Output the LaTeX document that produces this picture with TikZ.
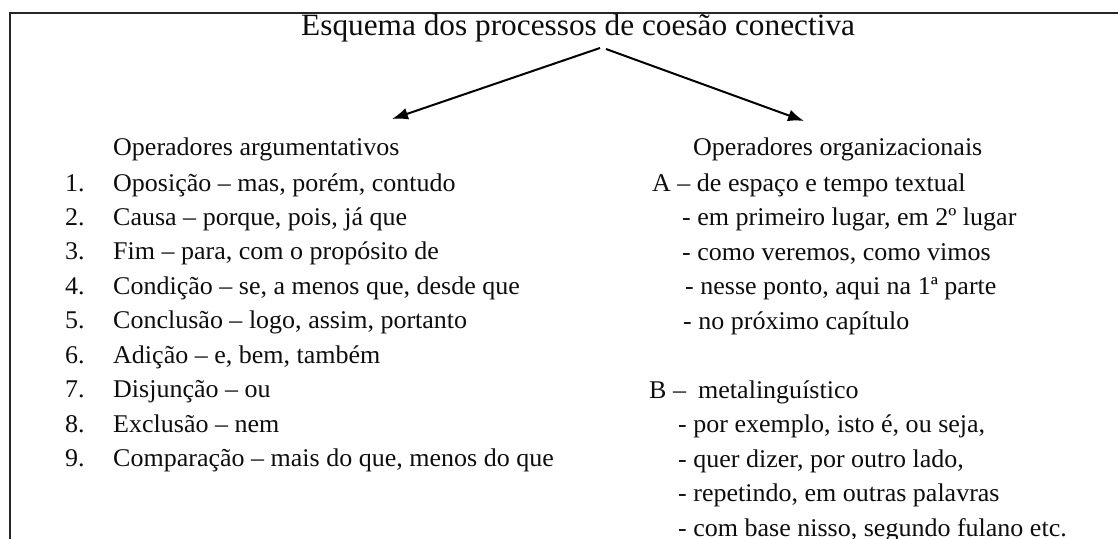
\documentclass[tikz,border=0pt]{standalone}
\usepackage{fontspec}
\setmainfont{Liberation Serif}
\newfontfamily\bodyfont[FakeStretch=1.02]{Liberation Serif}
\newfontfamily\titlefont[FakeStretch=1.01]{Liberation Serif}
\usetikzlibrary{arrows.meta}
\begin{document}
\begin{tikzpicture}[x=1pt,y=-1pt,
  txt/.style={anchor=base west,inner sep=0pt,font=\bodyfont\fontsize{25.5}{30}\selectfont,text=black!95},
  ttl/.style={anchor=base west,inner sep=0pt,font=\titlefont\fontsize{31}{37}\selectfont,text=black!95},
  conn/.style={line width=2pt,-{Latex[length=16pt,width=12pt]}},
  frame/.style={line width=2pt,draw=black!85}]
\useasboundingbox (0,0) rectangle (1118,538);
\begin{scope}
\clip (0,0) rectangle (1118,538);
\draw[frame] (10,545) -- (10,13) -- (1125,13);
\node[ttl] (title) at (301,35) {Esquema dos processos de coesão conectiva};
% left column
\node[txt] (h1) at (113,155) {Operadores argumentativos};
\foreach \n/\t [count=\i] in {1/{Oposição – mas, porém, contudo},
  2/{Causa – porque, pois, já que},
  3/{Fim – para, com o propósito de},
  4/{Condição – se, a menos que, desde que},
  5/{Conclusão – logo, assim, portanto},
  6/{Adição – e, bem, também},
  7/{Disjunção – ou},
  8/{Exclusão – nem},
  9/{Comparação – mais do que, menos do que}}{
  \node[txt] (n\i) at (65,{191+34.45*(\i-1)}) {\n.};
  \node[txt] (l\i) at (113,{191+34.45*(\i-1)}) {\t};
}
% right column
\node[txt] (h2) at (693,155) {Operadores organizacionais};
\node[txt] (ra) at (652,191) {A – de espaço e tempo textual};
\node[txt] (ra1) at (682,225.5) {- em primeiro lugar, em 2º lugar};
\node[txt] (ra2) at (682,260) {- como veremos, como vimos};
\node[txt] (ra3) at (685,294.5) {- nesse ponto, aqui na 1ª parte};
\node[txt] (ra4) at (683,329) {- no próximo capítulo};
\node[txt] (rb) at (649,398) {B –};
\node[txt] (rbt) at (698,398) {metalinguístico};
\node[txt] (rb1) at (678,432.5) {- por exemplo, isto é, ou seja,};
\node[txt] (rb2) at (678,467) {- quer dizer, por outro lado,};
\node[txt] (rb3) at (678,501.5) {- repetindo, em outras palavras};
\node[txt] (rb4) at (678,536) {- com base nisso, segundo fulano etc.};
% connectors
\coordinate (sl) at (600,48);
\coordinate (sr) at (606,49);
\coordinate (el) at (392,119);
\coordinate (er) at (804,121);
\draw[conn] (sl) -- (el);
\draw[conn] (sr) -- (er);
\end{scope}
\end{tikzpicture}
\end{document}
